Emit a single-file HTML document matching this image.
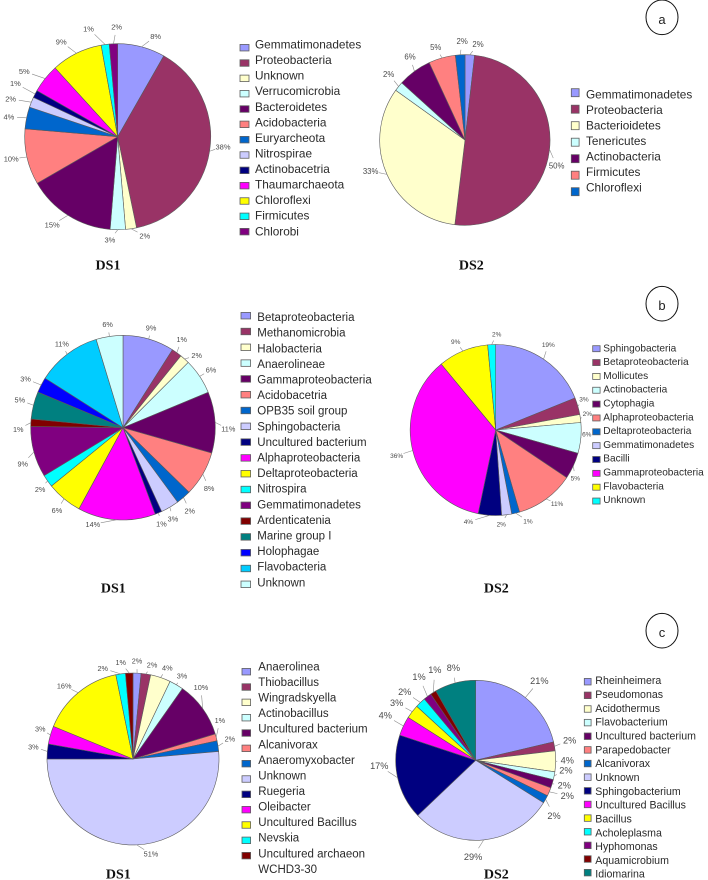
<!DOCTYPE html>
<html lang="en">
<head>
<meta charset="utf-8">
<title>Taxonomic composition pie charts</title>
<style>
html,body{margin:0;padding:0;background:#fff;}
body{width:708px;height:880px;overflow:hidden;}
#figure{display:block;width:708px;height:880px;filter:blur(0.35px);}
.legend-text{font-family:"Liberation Sans",sans-serif;fill:#2a2a2a;}
.pct{font-family:"Liberation Sans",sans-serif;fill:#4a4a4a;text-anchor:middle;}
.title{font-family:"Liberation Serif",serif;font-weight:bold;font-size:14px;fill:#111;text-anchor:middle;}
.panel{font-family:"Liberation Sans",sans-serif;font-size:13px;fill:#222;text-anchor:middle;}
</style>
</head>
<body>
<svg id="figure" xmlns="http://www.w3.org/2000/svg" width="708" height="880" viewBox="0 0 708 880">
  <g><ellipse cx="662" cy="17.3" rx="16" ry="17.3" fill="none" stroke="#111" stroke-width="1"/><text class="panel" x="662" y="24">a</text></g>
  <g><ellipse cx="662" cy="303.7" rx="16" ry="17.3" fill="none" stroke="#111" stroke-width="1"/><text class="panel" x="662" y="310">b</text></g>
  <g><ellipse cx="662" cy="630.7" rx="16" ry="17.3" fill="none" stroke="#111" stroke-width="1"/><text class="panel" x="662" y="637">c</text></g>
  <text class="title" x="108" y="269.5">DS1</text>
  <text class="title" x="471.3" y="269.5">DS2</text>
  <text class="title" x="113.3" y="592.7">DS1</text>
  <text class="title" x="496.3" y="592.7">DS2</text>
  <text class="title" x="118.3" y="878.5">DS1</text>
  <text class="title" x="496.3" y="878.5">DS2</text>
</svg>
<script>
const palette = ['#9999FF','#993366','#FFFFCC','#CCFFFF','#660066','#FF8080','#0066CC','#CCCCFF','#000080','#FF00FF','#FFFF00','#00FFFF','#800080','#800000','#008080','#0000FF','#00CCFF','#CCFFFF'];

const a1Categories = ['Gemmatimonadetes','Proteobacteria','Unknown','Verrucomicrobia','Bacteroidetes','Acidobacteria','Euryarcheota','Nitrospirae','Actinobacetria','Thaumarchaeota','Chloroflexi','Firmicutes','Chlorobi'];
const a1Values = [8.25,38.5,1.9,2.65,15.35,9.7,3.8,1.8,1.3,5,8.9,1.4,1.45];
const a1Labels = ['8%','38%','2%','3%','15%','10%','4%','2%','1%','5%','9%','1%','2%'];
const a1Colors = ['#9999FF','#993366','#FFFFCC','#CCFFFF','#660066','#FF8080','#0066CC','#CCCCFF','#000080','#FF00FF','#FFFF00','#00FFFF','#800080'];

const a2Categories = ['Gemmatimonadetes','Proteobacteria','Bacterioidetes','Tenericutes','Actinobacteria','Firmicutes','Chloroflexi'];
const a2Values = [1.8,50.1,33,1.8,6.4,5.1,1.8];
const a2Labels = ['2%','50%','33%','2%','6%','5%','2%'];
const a2Colors = ['#9999FF','#993366','#FFFFCC','#CCFFFF','#660066','#FF8080','#0066CC'];

const b1Categories = ['Betaproteobacteria','Methanomicrobia','Halobacteria','Anaerolineae','Gammaproteobacteria','Acidobacetria','OPB35 soil group','Sphingobacteria','Uncultured bacterium','Alphaproteobacteria','Deltaproteobacteria','Nitrospira','Gemmatimonadetes','Ardenticatenia','Marine group I','Holophagae','Flavobacteria','Unknown'];
const b1Values = [9,1.8,1.7,6.25,10.7,7.9,2.6,3.2,1.2,13.6,6.2,2.2,8.9,1.3,4.8,2.7,11.3,4.7];
const b1Labels = ['9%','1%','2%','6%','11%','8%','2%','3%','1%','14%','6%','2%','9%','1%','5%','3%','11%','6%'];
const b1Colors = palette.slice(0,18);

const b2Categories = ['Sphingobacteria','Betaproteobacteria','Mollicutes','Actinobacteria','Cytophagia','Alphaproteobacteria','Deltaproteobacteria','Gemmatimonadetes','Bacilli','Gammaproteobacteria','Flavobacteria','Unknown'];
const b2Values = [18.9,3.2,1.5,5.8,5,11.1,1.5,1.9,4.4,35.7,9.5,1.5];
const b2Labels = ['19%','3%','2%','6%','5%','11%','1%','2%','4%','36%','9%','2%'];
const b2Colors = palette.slice(0,12);

const c1Categories = ['Anaerolinea','Thiobacillus','Wingradskyella','Actinobacillus','Uncultured bacterium','Alcanivorax','Anaeromyxobacter','Unknown','Ruegeria','Oleibacter','Uncultured Bacillus','Nevskia','Uncultured archaeon|WCHD3-30'];
const c1Values = [1.5,1.8,3.8,2.65,10.55,1.3,2,51.4,2.8,3.4,15.6,1.8,1.4];
const c1Labels = ['2%','2%','4%','3%','10%','1%','2%','51%','3%','3%','16%','2%','1%'];
const c1Colors = ['#9999FF','#993366','#FFFFCC','#CCFFFF','#660066','#FF8080','#0066CC','#CCCCFF','#000080','#FF00FF','#FFFF00','#00FFFF','#800000'];

const c2Categories = ['Rheinheimera','Pseudomonas','Acidothermus','Flavobacterium','Uncultured bacterium','Parapedobacter','Alcanivorax','Unknown','Sphingobacterium','Uncultured Bacillus','Bacillus','Acholeplasma','Hyphomonas','Aquamicrobium','Idiomarina'];
const c2Values = [21.3,1.8,4.2,1.6,1.7,1.7,1.6,29,17.2,3.9,2.8,2.1,1.6,1.2,8.3];
const c2Labels = ['21%','2%','4%','2%','2%','2%','2%','29%','17%','4%','3%','2%','1%','1%','8%'];
const c2Colors = palette.slice(0,15);

const svgNS = 'http://www.w3.org/2000/svg';
const figure = document.getElementById('figure');

function make(tag, parent, attrs) {
  const el = document.createElementNS(svgNS, tag);
  for (const k in attrs) el.setAttribute(k, attrs[k]);
  parent.appendChild(el);
  return el;
}

function drawPie(cfg) {
  const pie = make('g', figure, {});
  
  
  const total = cfg.values.reduce(function (s, v) { return s + v; }, 0);
  const angleOf = function (v) { return v / total * Math.PI * 2; };
  let start = 0;
  cfg.values.forEach(function (v, i) {
    const end = start + angleOf(v);
    const x0 = cfg.cx + cfg.r * Math.sin(start), y0 = cfg.cy - cfg.r * Math.cos(start);
    const x1 = cfg.cx + cfg.r * Math.sin(end), y1 = cfg.cy - cfg.r * Math.cos(end);
    const large = end - start > Math.PI ? 1 : 0;
    const slice = make('path', pie, {
      d: 'M' + cfg.cx + ' ' + cfg.cy + 'L' + x0.toFixed(2) + ' ' + y0.toFixed(2) + 'A' + cfg.r + ' ' + cfg.r + ' 0 ' + large + ' 1 ' + x1.toFixed(2) + ' ' + y1.toFixed(2) + 'Z',
      fill: cfg.colors[i], stroke: '#5a5a5a', 'stroke-width': 0.6, 'stroke-linejoin': 'round'
    });
    
    

    const mid = (start + end) / 2;
    const nudge = (cfg.nudges && cfg.nudges[i]) || [0, 0];
    const lx = cfg.cx + (cfg.r + cfg.gapX) * Math.sin(mid) + nudge[0];
    const ly = cfg.cy - (cfg.r + cfg.gapY) * Math.cos(mid) + nudge[1];
    const ex = cfg.cx + cfg.r * Math.sin(mid), ey = cfg.cy - cfg.r * Math.cos(mid);
    const dx = lx - ex, dy = ly - ey;
    const len = Math.hypot(dx, dy) || 1;
    const stop = Math.max(0.1, Math.min(1, (len - cfg.font * 1.1) / len));
    const leader = make('line', pie, {
      x1: ex.toFixed(2), y1: ey.toFixed(2), x2: (ex + dx * stop).toFixed(2), y2: (ey + dy * stop).toFixed(2),
      stroke: '#8a8a8a', 'stroke-width': 0.6
    });
    
    
    const label = make('text', pie, { class: 'pct', x: lx.toFixed(2), y: (ly + cfg.font * 0.36).toFixed(2), 'font-size': cfg.font });
    label.textContent = cfg.labels[i];
    
    
    start = end;
  });

  const legend = make('g', figure, {});
  
  
  cfg.categories.forEach(function (name, i) {
    const sy = cfg.swatchY + i * cfg.swatchStep;
    const swatch = make('rect', legend, {
      x: cfg.swatchX, y: (sy - cfg.swatchH / 2).toFixed(2), width: cfg.swatchW, height: cfg.swatchH,
      fill: cfg.colors[i], stroke: '#5f5f5f', 'stroke-width': 0.8
    });
    
    
    const lines = name.split('|');
    lines.forEach(function (line, j) {
      const ty = cfg.textY + (i + j) * cfg.textStep + cfg.legendFont * 0.36;
      const t = make('text', legend, { class: 'legend-text', x: cfg.textX, y: ty.toFixed(2), 'font-size': cfg.legendFont });
      t.textContent = line;
      
      
    });
  });
}

drawPie({ id: 'a-ds1', categories: a1Categories, values: a1Values, labels: a1Labels, colors: a1Colors,
  cx: 117.7, cy: 136.7, r: 93, gapX: 12, gapY: 9, font: 7.5,
  nudges: { 0: [11, -2], 1: [1.6, -6], 2: [12, -1.6], 3: [-8, 1], 4: [-9.4, 2], 5: [-4, 0], 6: [-6, 1], 7: [-9.5, 0], 8: [-9, -6.5], 9: [-11.5, -1.6], 10: [-10, -3.6], 11: [-15, -7], 12: [3.7, -8] },
  swatchX: 240, swatchY: 47.7, swatchStep: 15.33, swatchW: 9, swatchH: 6.5,
  textX: 255, textY: 44.3, textStep: 15.56, legendFont: 11.8 });

drawPie({ id: 'a-ds2', categories: a2Categories, values: a2Values, labels: a2Labels, colors: a2Colors,
  cx: 465, cy: 140, r: 85.3, gapX: 12, gapY: 9, font: 7.8,
  nudges: { 0: [7.5, -1.6], 1: [-5, 15], 2: [-5.3, -7], 3: [-0.6, -6.8], 4: [2.7, -7.4], 5: [-3, -2], 6: [2.7, -4.6] },
  swatchX: 571.3, swatchY: 92.7, swatchStep: 16.5, swatchW: 7.8, swatchH: 8,
  textX: 586, textY: 94, textStep: 15.56, legendFont: 11.8 });

drawPie({ id: 'b-ds1', categories: b1Categories, values: b1Values, labels: b1Labels, colors: b1Colors,
  cx: 123, cy: 427.7, r: 92.3, gapX: 12, gapY: 9, font: 7.3,
  nudges: { 0: [-1, -2.7], 1: [-2, -6], 2: [4, 3], 3: [1.3, -1.7], 4: [1.2, 7], 5: [-4, 9.6], 6: [-1.6, 6.4], 7: [-3, 4], 8: [-1.6, 2.4], 9: [-22.8, -4.4], 10: [0.5, 4.8], 11: [2.3, 3], 12: [0.4, 9.3], 13: [-0.6, 7], 14: [-2, -3], 15: [-5, -2], 16: [2, -3], 17: [0, -3] },
  swatchX: 241, swatchY: 315.7, swatchStep: 15.8, swatchW: 9.6, swatchH: 6.5,
  textX: 257.3, textY: 317, textStep: 15.6, legendFont: 11.5 });

drawPie({ id: 'b-ds2', categories: b2Categories, values: b2Values, labels: b2Labels, colors: b2Colors,
  cx: 495.7, cy: 430, r: 85.5, gapX: 10, gapY: 8, font: 6.5,
  nudges: { 0: [-0.8, -8], 1: [-3.4, -4.6], 2: [-3, -4], 3: [-4, -4.5], 4: [-7, 8.8], 5: [5, -1.8], 6: [10, 0], 7: [-6.7, 1.5], 8: [-20.7, -1.6], 9: [-6.3, 3.3], 10: [-3.4, -2], 11: [5.5, -2.6] },
  swatchX: 592.7, swatchY: 348.7, swatchStep: 13.85, swatchW: 7.4, swatchH: 6,
  textX: 603.3, textY: 347.7, textStep: 13.8, legendFont: 10.1 });

drawPie({ id: 'c-ds1', categories: c1Categories, values: c1Values, labels: c1Labels, colors: c1Colors,
  cx: 133, cy: 759, r: 86, gapX: 11, gapY: 9, font: 7.3,
  nudges: { 0: [-0.6, -3], 1: [4.5, 0], 2: [3.2, -1.3], 3: [0, -1], 4: [-10.6, -16], 5: [-7, -14.7], 6: [1, -6], 7: [13.7, 0], 8: [-3, -4], 9: [0.4, -3.8], 10: [-7, 0], 11: [-16.3, 3.3], 12: [-8, -1.7] },
  swatchX: 242, swatchY: 671.7, swatchStep: 15.33, swatchW: 8.6, swatchH: 6.5,
  textX: 258.3, textY: 666.3, textStep: 15.57, legendFont: 11.5 });

drawPie({ id: 'c-ds2', categories: c2Categories, values: c2Values, labels: c2Labels, colors: c2Colors,
  cx: 475.7, cy: 760.3, r: 80, gapX: 14, gapY: 10, font: 9.2,
  nudges: { 0: [5.3, -9], 1: [1.4, -4.5], 2: [-2.4, -1.4], 3: [-2, -7.5], 4: [-1.3, -1.8], 5: [5.2, 0], 6: [-3.8, 11.5], 7: [-12, 7], 8: [-4.7, -14], 9: [-5.5, -6.4], 10: [-4.4, -2.7], 11: [-6, -3.5], 12: [0, -12], 13: [9, -14.3], 14: [1.9, -5.7] },
  swatchX: 584.3, swatchY: 681.7, swatchStep: 13.64, swatchW: 6.8, swatchH: 6.5,
  textX: 595.3, textY: 680.3, textStep: 13.83, legendFont: 10.6 });
</script>
</body>
</html>
